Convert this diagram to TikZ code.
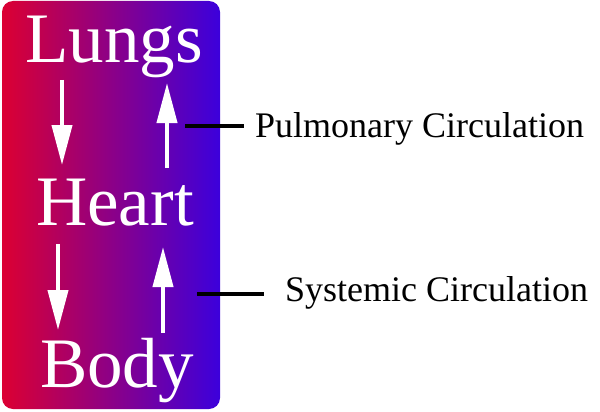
\documentclass[tikz,border=0pt]{standalone}
\usepackage{fontspec}
\setmainfont{Liberation Serif}
\usetikzlibrary{arrows.meta}
\definecolor{boxleft}{HTML}{DC0032}
\definecolor{boxright}{HTML}{3C00DC}
\begin{document}
\begin{tikzpicture}[x=1pt,y=-1pt,
  bigword/.style={text=white,inner sep=0pt,anchor=base,font=\fontsize{71}{71}\selectfont},
  label/.style={text=black,inner sep=0pt,anchor=base west,font=\fontsize{36}{36}\selectfont},
  flow/.style={draw=white,line width=4pt,-{Triangle[length=40pt,width=20pt]}},
  pointer/.style={draw=black,line width=4.5pt}]
\useasboundingbox (0,0) rectangle (600,412);
\shade[left color=boxleft,right color=boxright,rounded corners=11pt] (2,1) rectangle (220,409);
\node[bigword] (lungs) at (114,63) {Lungs};
\node[bigword] (heart) at (115,225) {Heart};
\node[bigword] (body) at (117,387) {Body};
\coordinate (a1s) at (62,80);  \coordinate (a1e) at (62,165);
\coordinate (a2s) at (167,168); \coordinate (a2e) at (167,83);
\coordinate (a3s) at (58,244); \coordinate (a3e) at (58,330);
\coordinate (a4s) at (163,333); \coordinate (a4e) at (163,247);
\draw[flow] (a1s) -- (a1e);
\draw[flow] (a2s) -- (a2e);
\draw[flow] (a3s) -- (a3e);
\draw[flow] (a4s) -- (a4e);
\node[label] (pulm) at (255,137) {Pulmonary Circulation};
\node[label] (syst) at (285,301) {Systemic Circulation};
\coordinate (p1) at (185,126); \coordinate (p2) at (244,126);
\coordinate (s1) at (197,294); \coordinate (s2) at (264,294);
\draw[pointer] (p1) -- (p2);
\draw[pointer] (s1) -- (s2);
\end{tikzpicture}
\end{document}
